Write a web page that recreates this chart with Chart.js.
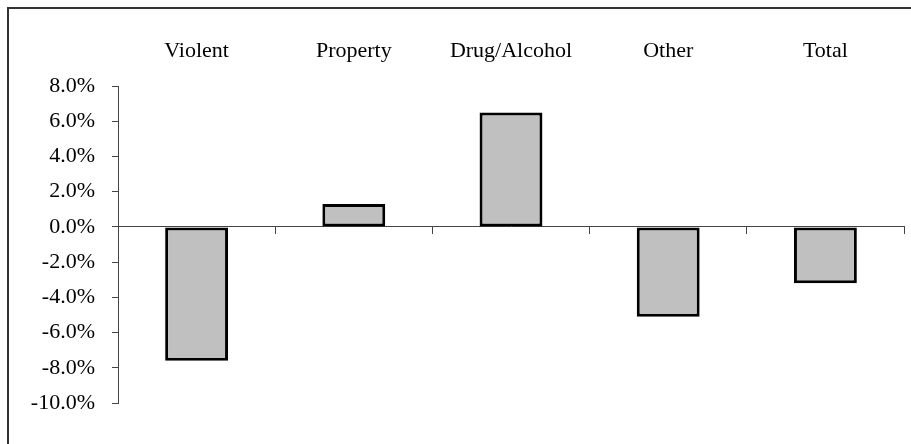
<!DOCTYPE html>
<html>
<head>
<meta charset="utf-8">
<script src="https://cdn.jsdelivr.net/npm/chart.js@4"></script>
<style>
  body { margin: 0; background: #fff; overflow: hidden; }
  #frame { position: absolute; left: 7px; top: 7px; width: 1000px; height: 1000px; border: 2px solid #333; }
  #changeChart { position: absolute; left: 0; top: 0; }
</style>
</head>
<body>
<div id="frame"></div>
<canvas id="changeChart" width="911" height="444"></canvas>
<script>
// categories and percent change values
const categories = ['Violent', 'Property', 'Drug/Alcohol', 'Other', 'Total'];
const changes = [-7.6, 1.3, 6.5, -5.1, -3.2];
const yTicks = [8, 6, 4, 2, 0, -2, -4, -6, -8, -10];

document.addEventListener('DOMContentLoaded', function() {
    const ctx = document.getElementById('changeChart').getContext('2d');
    Chart.defaults.font.family = '"Liberation Serif", "Times New Roman", serif';
    Chart.defaults.font.size = 22;
    Chart.defaults.color = '#000';

    new Chart(ctx, {
        type: 'bar',
        data: {
            labels: categories,
            datasets: [{
                data: changes,
                backgroundColor: '#c0c0c0',
                borderColor: '#000',
                borderWidth: 3,
                borderSkipped: false,
                categoryPercentage: 1,
                barPercentage: 0.4,
                xAxisID: 'x'
            }]
        },
        options: {
            responsive: false,
            animation: false,
            layout: { padding: { left: 0, top: 0, right: 7, bottom: 41 } },
            plugins: {
                legend: { display: false },
                tooltip: { enabled: false }
            },
            scales: {
                // axis line through zero with tick marks between categories
                x: {
                    type: 'category',
                    position: { y: 0 },
                    ticks: { display: false },
                    grid: {
                        drawOnChartArea: false,
                        drawTicks: true,
                        tickLength: 7,
                        offset: true,
                        color: '#444',
                        lineWidth: 1
                    },
                    border: { display: true, color: '#444', width: 1 }
                },
                // category names along the top
                x2: {
                    type: 'category',
                    position: 'top',
                    labels: categories,
                    offset: true,
                    grid: { display: false, drawTicks: false },
                    border: { display: false },
                    ticks: { padding: 22, maxRotation: 0 },
                    afterFit: function(scale) { scale.height = 86; }
                },
                y: {
                    min: -10,
                    max: 8,
                    afterBuildTicks: function(scale) {
                        scale.ticks = yTicks.map(v => ({ value: v }));
                    },
                    ticks: {
                        padding: 17,
                        callback: function(value) { return value.toFixed(1) + '%'; }
                    },
                    grid: {
                        drawOnChartArea: false,
                        drawTicks: true,
                        tickLength: 6,
                        color: '#444',
                        lineWidth: 1
                    },
                    border: { display: true, color: '#444', width: 1 },
                    afterFit: function(scale) { scale.width = 118; }
                }
            }
        }
    });
});
</script>
</body>
</html>
